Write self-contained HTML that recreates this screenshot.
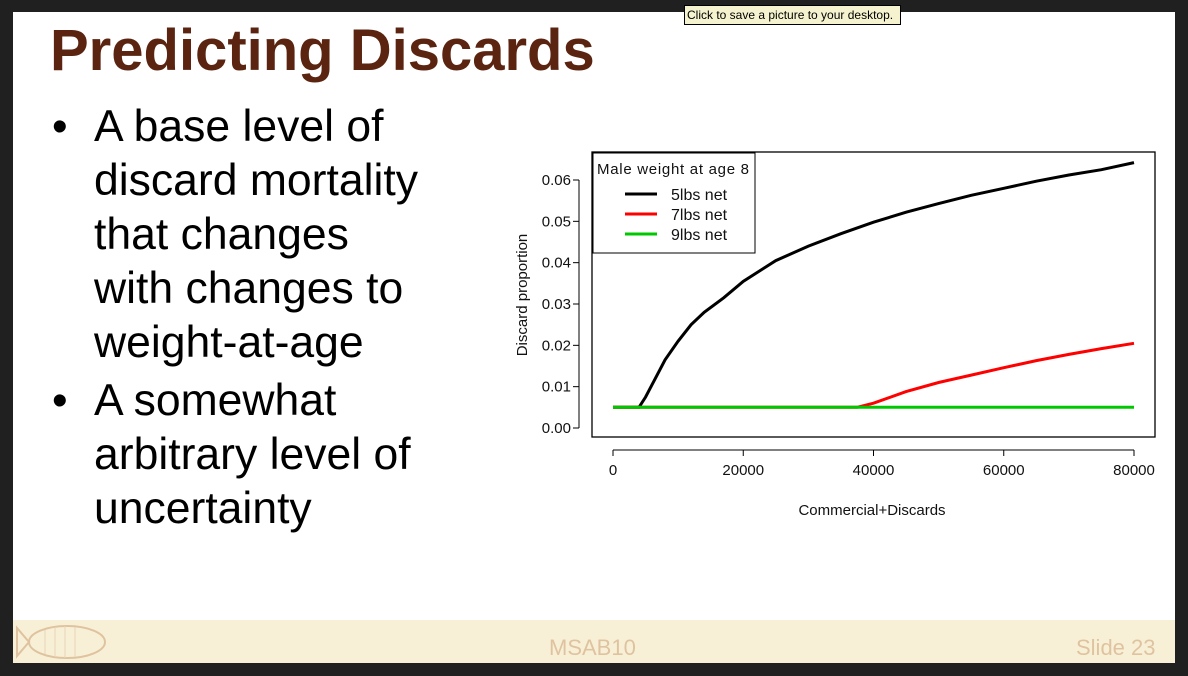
<!DOCTYPE html>
<html><head><meta charset="utf-8"><style>
body{margin:0;width:1188px;height:676px;background:#202020;position:relative;overflow:hidden;font-family:"Liberation Sans",sans-serif}
#slide{position:absolute;left:13px;top:12px;width:1162px;height:608px;background:#fff}
#footer{position:absolute;left:13px;top:620px;width:1162px;height:43px;background:#f8f0d6}
h1{position:absolute;left:50px;top:17px;margin:0;font-size:58px;font-weight:bold;color:#5a2410}
ul{position:absolute;left:50px;top:100px;margin:0;padding:0;list-style:none;font-size:44.5px;line-height:54px;color:#000}
li{position:relative;padding-left:44px;margin-bottom:4px}
li:before{content:"•";position:absolute;left:2px}
#tip{position:absolute;left:684px;top:5px;width:213px;height:18px;background:#f5f3cf;border:1px solid #000;font-size:12px;line-height:18px;padding-left:2px;box-sizing:content-box}
.ft{position:absolute;color:#dfc3a0;font-size:22px}
</style></head><body>
<div id="slide"></div>
<h1>Predicting Discards</h1>
<ul>
<li>A base level of<br>discard mortality<br>that changes<br>with changes to<br>weight-at-age</li>
<li>A somewhat<br>arbitrary level of<br>uncertainty</li>
</ul>
<svg id="chart" style="position:absolute;left:0;top:0" width="1188" height="676" font-family="Liberation Sans, sans-serif"></svg>
<div id="footer">
<svg style="position:absolute;left:2px;top:2px" width="96" height="40"><ellipse cx="52" cy="20" rx="38" ry="16" fill="none" stroke="#dfc3a0" stroke-width="2"/><path d="M14 20 L2 6 L2 34 Z" fill="none" stroke="#dfc3a0" stroke-width="2"/><path d="M30 8 L30 32 M40 5 L40 35 M50 4 L50 36 M60 5 L60 35" stroke="#e8d3b5"/></svg>
<div class="ft" style="left:536px;top:15px">MSAB10</div>
<div class="ft" style="left:1063px;top:15px">Slide 23</div>
</div>
<div id="tip">Click to save a picture to your desktop.</div>
<script>
const xTicks=[0,20000,40000,60000,80000];
const yTicks=[0,0.01,0.02,0.03,0.04,0.05,0.06];
const yTickLabels=["0.00","0.01","0.02","0.03","0.04","0.05","0.06"];
const blackX=[0,4000,5000,6000,8000,10000,12000,14000,17000,20000,25000,30000,35000,40000,45000,50000,55000,60000,65000,70000,75000,80000];
const blackY=[0.005,0.005,0.0075,0.0105,0.0165,0.021,0.025,0.028,0.0315,0.0355,0.0405,0.044,0.047,0.0498,0.0522,0.0543,0.0563,0.058,0.0597,0.0612,0.0625,0.0642];
const redX=[0,37500,40000,45000,50000,55000,60000,65000,70000,75000,80000];
const redY=[0.005,0.005,0.006,0.0088,0.011,0.0128,0.0146,0.0163,0.0178,0.0192,0.0205];
const greenX=[0,80000];
const greenY=[0.005,0.005];
const NS="http://www.w3.org/2000/svg";
const svg=document.getElementById('chart');
const sx=v=>613+v/80000*521;
const sy=v=>428-v/0.06*248;
function mk(t,a,p){const e=document.createElementNS(NS,t);for(const k in a)e.setAttribute(k,a[k]);(p||svg).appendChild(e);return e;}
let e;
e=mk('rect',{x:592,y:152,width:563,height:285,fill:'none',stroke:'#000','stroke-width':1.3});


mk('line',{x1:sx(0),x2:sx(80000),y1:450,y2:450,stroke:'#000'});
xTicks.forEach(v=>{mk('line',{x1:sx(v),x2:sx(v),y1:450,y2:456,stroke:'#000'});
e=mk('text',{x:sx(v),y:475,'text-anchor':'middle','font-size':15,fill:'#111'});e.textContent=v;

});
mk('line',{x1:579,x2:579,y1:sy(0),y2:sy(0.06),stroke:'#000'});
yTicks.forEach((v,i)=>{mk('line',{x1:573,x2:579,y1:sy(v),y2:sy(v),stroke:'#000'});
e=mk('text',{x:571,y:sy(v)+5,'text-anchor':'end','font-size':15,fill:'#111'});e.textContent=yTickLabels[i];

});
e=mk('text',{x:872,y:515,'text-anchor':'middle','font-size':15,fill:'#111'});e.textContent='Commercial+Discards';


e=mk('text',{x:527,y:295,'text-anchor':'middle','font-size':15,fill:'#111',transform:'rotate(-90 527 295)'});e.textContent='Discard proportion';


function line(xs,ys,c,name){const d=xs.map((x,i)=>(i?'L':'M')+sx(x).toFixed(1)+' '+sy(ys[i]).toFixed(1)).join(' ');
const p=mk('path',{d:d,fill:'none',stroke:c,'stroke-width':3});

}
line(blackX,blackY,'#000','series-5lbs');
line(redX,redY,'#f00','series-7lbs');
line(greenX,greenY,'#00c800','series-9lbs');
e=mk('rect',{x:593,y:153,width:162,height:100,fill:'#fff',stroke:'#000'});


e=mk('text',{x:597,y:174,'font-size':15,fill:'#111',textLength:152});e.textContent='Male weight at age 8';


[['#000','5lbs net',200],['#f00','7lbs net',220],['#00c800','9lbs net',240]].forEach(l=>{
mk('line',{x1:625,x2:657,y1:l[2]-6,y2:l[2]-6,stroke:l[0],'stroke-width':3});
const t=mk('text',{x:671,y:l[2],'font-size':16,fill:'#111'});t.textContent=l[1];

});
</script>
</body></html>
